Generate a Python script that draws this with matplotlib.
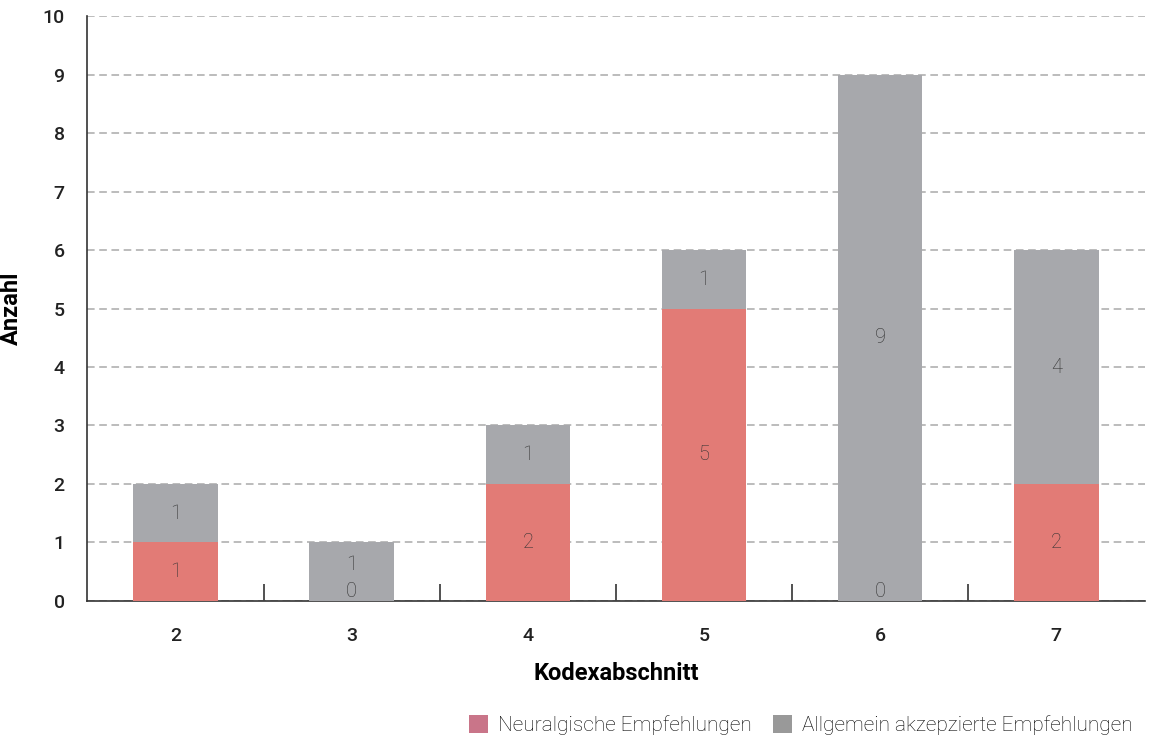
import matplotlib.pyplot as plt
import matplotlib.patches as mpatches
import numpy as np

plt.rcParams['font.family'] = ['Roboto', 'DejaVu Sans']

# Data
sections = ["2", "3", "4", "5", "6", "7"]
neuralgic = [1, 0, 2, 5, 0, 2]
accepted = [1, 1, 1, 1, 9, 4]

red = "#E27B76"
grey = "#A7A8AC"
legend_red = "#C97589"
legend_grey = "#999999"

fig = plt.figure(figsize=(11.55, 7.45), dpi=100)
ax = fig.add_axes([0.0753, 0.1933, 0.9160, 0.7852])

x = np.arange(len(sections))
width = 0.48
ax.bar(x, neuralgic, width, color=red, zorder=3)
ax.bar(x, accepted, width, bottom=neuralgic, color=grey, zorder=3)

# value labels
for xi, n, a in zip(x, neuralgic, accepted):
    ny = n / 2 if n > 0 else 0.17
    ax.text(xi, ny, str(n), ha="center", va="center", fontsize=14.5,
            fontweight="light", color="#333333", zorder=4)
    ay = n + a / 2
    if n == 0 and a == 1:
        ay = 0.63
    ax.text(xi, ay, str(a), ha="center", va="center", fontsize=14.5,
            fontweight="light", color="#333333", zorder=4)

ax.set_xlim(-0.503, 5.503)
ax.set_ylim(0, 10)
ax.set_yticks(range(0, 11))
ax.set_xticks(x)
ax.set_xticklabels(sections)
ax.set_xticks(x[:-1] + 0.5, minor=True)
ax.tick_params(axis="x", which="major", length=0, pad=19, labelsize=14,
               labelcolor="#222222")
ax.tick_params(axis="x", which="minor", direction="in", length=12,
               width=1.2, color="#333333")
ax.tick_params(axis="y", length=0, pad=16, labelsize=14, labelcolor="#222222")
for lbl in ax.get_xticklabels() + ax.get_yticklabels():
    lbl.set_fontweight("medium")

ax.grid(axis="y", linestyle=(0, (5, 3)), color="#AAAAAA", linewidth=1.1, zorder=0)

for s in ["top", "right"]:
    ax.spines[s].set_visible(False)
ax.spines["left"].set_color("#333333")
ax.spines["bottom"].set_color("#333333")
ax.spines["left"].set_linewidth(1.2)
ax.spines["bottom"].set_linewidth(1.2)

ax.set_xlabel("Kodexabschnitt", fontsize=17, fontweight="bold", labelpad=12)
ax.set_ylabel("Anzahl", fontsize=17, fontweight="bold", labelpad=14)

handles = [
    mpatches.Patch(facecolor=legend_red, label="Neuralgische Empfehlungen"),
    mpatches.Patch(facecolor=legend_grey, label="Allgemein akzepzierte Empfehlungen"),
]
fig.legend(handles=handles, loc="lower right", bbox_to_anchor=(0.997, -0.012),
           ncol=2, frameon=False, prop={"weight": "light", "size": 15},
           handlelength=0.9, handleheight=0.9, handletextpad=0.5, columnspacing=1.0)

fig.savefig("out.png", dpi=100)
